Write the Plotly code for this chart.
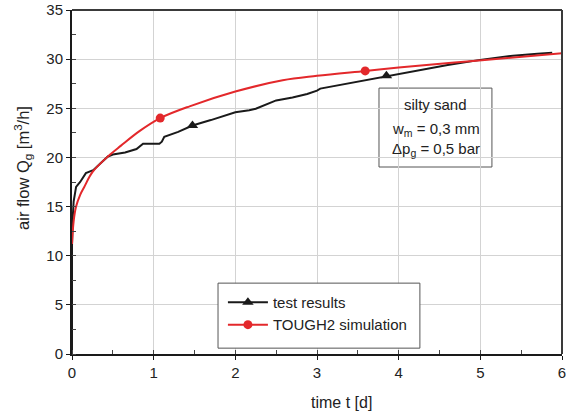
import plotly.graph_objects as go

# Test results (black)
test_t = [0, 0, 0.01, 0.02, 0.05, 0.1, 0.17, 0.26, 0.35, 0.44, 0.5, 0.65, 0.79, 0.87, 1.0,
          1.07, 1.1, 1.13, 1.3, 1.475, 1.7, 1.93, 2.0, 2.17, 2.25, 2.5, 2.7, 2.88, 3.0, 3.04,
          3.3, 3.6, 3.85, 4.2, 4.6, 5.02, 5.4, 5.7, 5.88]
test_q = [0, 11, 14, 15.5, 17.0, 17.5, 18.4, 18.7, 19.4, 20.1, 20.3, 20.5, 20.85, 21.4, 21.4,
          21.4, 21.6, 22.1, 22.6, 23.25, 23.8, 24.45, 24.6, 24.8, 24.95, 25.8, 26.1, 26.45, 26.8, 27.0,
          27.4, 27.9, 28.3, 28.8, 29.4, 29.95, 30.35, 30.55, 30.65]
test_mark_t = [1.475, 3.85]
test_mark_q = [23.25, 28.3]

# TOUGH2 simulation (red)
sim_t = [0, 0.02, 0.05, 0.1, 0.15, 0.25, 0.44, 0.6, 0.83, 1.08, 1.44, 2.0, 2.58, 3.0, 3.59, 4.0, 5.02, 6.0]
sim_q = [11.2, 13.5, 15.0, 16.2, 17.0, 18.5, 20.1, 21.2, 22.7, 24.0, 25.2, 26.7, 27.85, 28.3, 28.8, 29.15, 29.9, 30.6]
sim_mark_t = [1.08, 3.59]
sim_mark_q = [24.0, 28.8]

info_lines = ["silty sand", "w<sub>m</sub> = 0,3 mm", "Δp<sub>g</sub> = 0,5 bar"]
y_title = "air flow Q<sub>g</sub> [m<sup>3</sup>/h]"
x_title = "time t [d]"

BLACK = "#1a1a1a"
RED = "#e3282b"
TXT = "#222"
FONT = "Liberation Sans, Arial, sans-serif"

fig = go.Figure()
fig.add_trace(go.Scatter(x=test_t, y=test_q, mode="lines", line=dict(color=BLACK, width=2),
                         showlegend=False, hoverinfo="skip"))
fig.add_trace(go.Scatter(x=test_mark_t, y=test_mark_q, mode="markers",
                         marker=dict(symbol="triangle-up", size=10, color=BLACK), showlegend=False))
fig.add_trace(go.Scatter(x=sim_t, y=sim_q, mode="lines", line=dict(color=RED, width=2, shape="spline"),
                         showlegend=False, hoverinfo="skip"))
fig.add_trace(go.Scatter(x=sim_mark_t, y=sim_mark_q, mode="markers",
                         marker=dict(symbol="circle", size=9, color=RED), showlegend=False))
# legend entries
fig.add_trace(go.Scatter(x=[None], y=[None], mode="lines+markers", name="test results",
                         line=dict(color=BLACK, width=2),
                         marker=dict(symbol="triangle-up", size=10, color=BLACK)))
fig.add_trace(go.Scatter(x=[None], y=[None], mode="lines+markers", name="TOUGH2 simulation",
                         line=dict(color=RED, width=2),
                         marker=dict(symbol="circle", size=9, color=RED)))

info_y = [0.724, 0.654, 0.594]
annotations = [dict(x=0.742, y=yy, xref="paper", yref="paper", xanchor="center", yanchor="middle",
                    text=t, showarrow=False, font=dict(size=15, family=FONT, color=TXT))
               for t, yy in zip(info_lines, info_y)]
annotations.append(dict(x=-0.1, y=0.541, xref="paper", yref="paper", xanchor="center",
                        yanchor="middle", text=y_title, textangle=-90, showarrow=False,
                        font=dict(size=16.5, family=FONT, color=TXT)))
annotations.append(dict(x=0.549, y=-0.1424, xref="paper", yref="paper", xanchor="center",
                        yanchor="middle", text=x_title, showarrow=False,
                        font=dict(size=16, family=FONT, color=TXT)))

fig.update_layout(
    width=566, height=416,
    margin=dict(l=72, r=4, t=10, b=62),
    paper_bgcolor="white", plot_bgcolor="white",
    font=dict(family=FONT, size=14, color=TXT),
    legend=dict(x=0.308, y=0.198, xanchor="left", yanchor="top",
                borderwidth=0, bgcolor="rgba(0,0,0,0)",
                font=dict(size=15, family=FONT, color=TXT), itemwidth=40),
    annotations=annotations,
    shapes=[
        dict(type="line", xref="paper", yref="paper", x0=0, x1=1, y0=1, y1=1,
             line=dict(color="#3a3a3a", width=2)),
        dict(type="line", xref="paper", yref="paper", x0=1, x1=1, y0=0, y1=1,
             line=dict(color="#3a3a3a", width=2)),
        # legend frame
        dict(type="rect", xref="paper", yref="paper", x0=0.298, x1=0.710, y0=0.017, y1=0.206,
             line=dict(color="#555", width=1), fillcolor="white", layer="above"),
        # info box frame
        dict(type="rect", xref="paper", yref="paper", x0=0.6265, x1=0.857, y0=0.5436, y1=0.773,
             line=dict(color="#555", width=1), fillcolor="white", layer="below"),
    ],
)

fig.update_xaxes(range=[0, 6], dtick=1, showgrid=True, gridcolor="#d3d3d3", gridwidth=1,
                 showline=True, linecolor=BLACK, linewidth=2, zeroline=False, automargin=False,
                 ticks="outside", ticklen=4, tickcolor=BLACK, ticklabeloverflow="allow",
                 minor=dict(dtick=0.5, ticks="inside", ticklen=4, tickcolor="#444", showgrid=False),
                 tickfont=dict(size=15, family=FONT, color=TXT))
fig.update_yaxes(range=[0, 35], dtick=5, showgrid=True, gridcolor="#d3d3d3", gridwidth=1,
                 showline=True, linecolor=BLACK, linewidth=2, zeroline=False, automargin=False,
                 ticks="outside", ticklen=4, tickcolor=BLACK, ticklabeloverflow="allow",
                 minor=dict(dtick=2.5, ticks="inside", ticklen=4, tickcolor="#444", showgrid=False),
                 tickfont=dict(size=15, family=FONT, color=TXT))

fig.write_html("out.html", config={"displayModeBar": False},
               post_script="document.body.style.margin='0';document.body.style.overflow='hidden';")
